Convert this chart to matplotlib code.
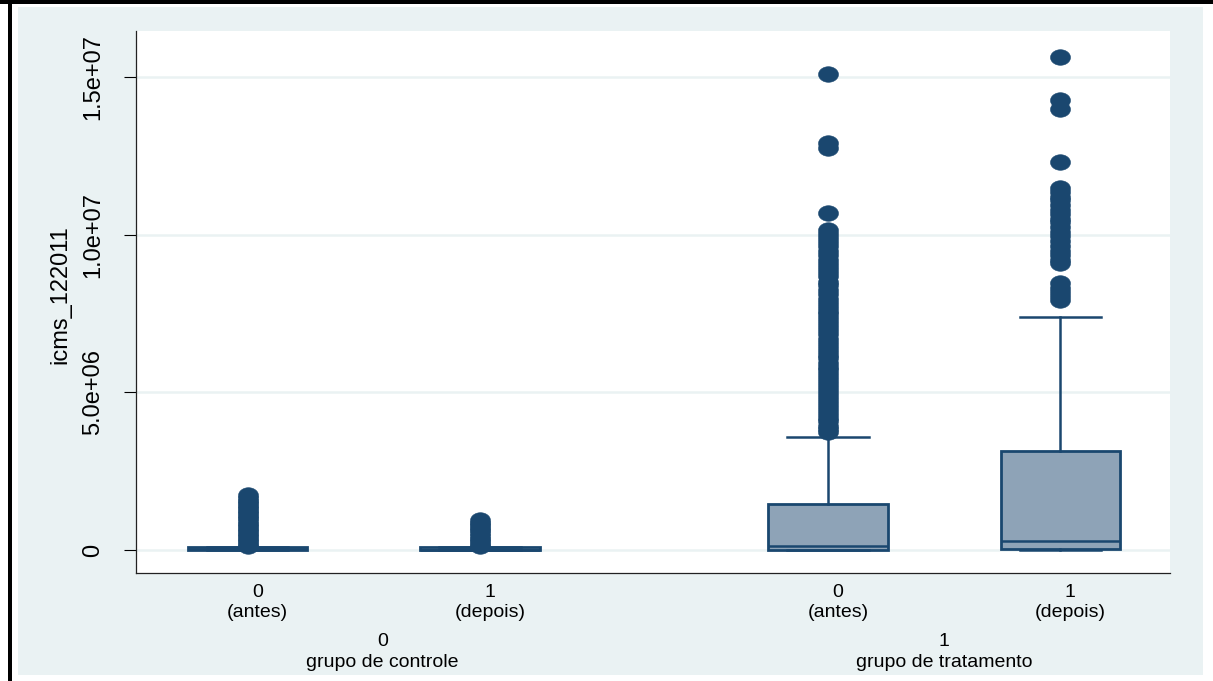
import numpy as np
import matplotlib
matplotlib.use("Agg")
import matplotlib.pyplot as plt
from matplotlib.path import Path
from matplotlib.patches import Rectangle
from matplotlib.transforms import ScaledTranslation, blended_transform_factory

plt.rcParams["font.family"] = ["Liberation Sans", "DejaVu Sans"]

# box positions and labels (grupo x periodo)
positions = [1, 2, 3.5, 4.5]
tick_labels = ["0\n(antes)", "1\n(depois)", "0\n(antes)", "1\n(depois)"]
group_labels = ["0\ngrupo de controle", "1\ngrupo de tratamento"]
group_pos = [1.58, 4.0]

# box statistics, icms_122011 in millions
q1 = [0.0, 0.0, 0.0, 0.03]
med = [0.02, 0.01, 0.14, 0.30]
q3 = [0.10, 0.10, 1.46, 3.13]
whislo = [0.0, 0.0, 0.0, 0.0]
whishi = [0.10, 0.10, 3.60, 7.38]

# outside values, in millions
out_ctrl_antes = [0.12, 0.2, 0.28, 0.36, 0.44, 0.52, 0.6, 0.68, 0.76, 0.84,
                  0.92, 1.0, 1.08, 1.16, 1.24, 1.32, 1.4, 1.48, 1.56, 1.64, 1.75]
out_ctrl_depois = [0.12, 0.2, 0.28, 0.36, 0.45, 0.53, 0.62, 0.7, 0.78, 0.86, 0.95]
out_trat_antes = [15.1, 12.9, 12.75, 10.7,
                  10.15, 10.02, 9.9, 9.78, 9.64, 9.5, 9.35, 9.2, 9.08, 8.95,
                  8.82, 8.68, 8.5, 8.4, 8.25, 8.12, 7.98, 7.85, 7.72, 7.6,
                  7.48, 7.35, 7.22, 7.1, 6.98, 6.85, 6.7, 6.58, 6.45, 6.32,
                  6.2, 6.08, 5.95, 5.82, 5.7, 5.58, 5.45, 5.32, 5.2, 5.08,
                  4.95, 4.82, 4.7, 4.58, 4.45, 4.32, 4.2, 4.08, 3.95, 3.85, 3.74]
out_trat_depois = [15.65, 14.28, 13.99, 12.32,
                   11.48, 11.35, 11.2, 11.1, 10.95, 10.8, 10.65, 10.5, 10.4,
                   10.25, 10.1, 9.95, 9.8, 9.65, 9.5, 9.35, 9.2, 9.1,
                   8.46, 8.33, 8.2, 8.05, 7.93]
outliers = [out_ctrl_antes, out_ctrl_depois, out_trat_antes, out_trat_depois]

navy = "#1A476F"
box_fill = "#8EA3B7"
bg = "#EAF2F3"

stats = []
for i in range(len(positions)):
    stats.append(dict(q1=q1[i] * 1e6, med=med[i] * 1e6, q3=q3[i] * 1e6,
                      whislo=whislo[i] * 1e6, whishi=whishi[i] * 1e6,
                      fliers=np.array(outliers[i]) * 1e6))

# slightly flattened circle for the outside values
t = np.linspace(0, 2 * np.pi, 40)
ellipse = Path(np.column_stack([np.cos(t), 0.78 * np.sin(t)]), closed=True)

W, H = 1213, 681
fig = plt.figure(figsize=(W / 100, H / 100), dpi=100, facecolor="white")

# graph region and frame
fig.patches.append(Rectangle((18 / W, 6 / H), 1185 / W, 668 / H,
                             transform=fig.transFigure, facecolor=bg,
                             edgecolor="none", zorder=-10))
fig.patches.append(Rectangle((0, 1 - 3.5 / H), 1, 3.5 / H,
                             transform=fig.transFigure, facecolor="black",
                             edgecolor="none", zorder=-5))
fig.patches.append(Rectangle((8 / W, 0), 4 / W, 1,
                             transform=fig.transFigure, facecolor="black",
                             edgecolor="none", zorder=-5))

ax = fig.add_axes([135.7 / W, 1 - 573 / H, (1170 - 135.7) / W, (573 - 31) / H])
ax.set_facecolor("white")

ax.bxp(stats, positions=positions, widths=0.514, capwidths=0.35,
       patch_artist=True, showfliers=True,
       boxprops=dict(facecolor=box_fill, edgecolor=navy, linewidth=2.0),
       medianprops=dict(color=navy, linewidth=1.8),
       whiskerprops=dict(color=navy, linewidth=1.8),
       capprops=dict(color=navy, linewidth=1.8),
       flierprops=dict(marker=ellipse, markersize=14.4, markerfacecolor=navy,
                       markeredgecolor=navy, markeredgewidth=0.4,
                       linestyle="none"))

ax.set_xlim(0.517, 4.973)
ax.set_ylim(-0.73e6, 16.47e6)

ax.set_yticks([0, 5e6, 1e7, 1.5e7])
ax.set_yticklabels(["0", "5.0e+06", "1.0e+07", "1.5e+07"],
                   rotation=90, va="center", fontsize=17)
ax.tick_params(axis="y", length=9, width=0.8, pad=14, color="black")
ax.yaxis.grid(True, color=bg, linewidth=1.8)
ax.set_axisbelow(True)

ax.set_xticks(positions)
ax.set_xticklabels(tick_labels, fontsize=14, linespacing=1.2)
ax.tick_params(axis="x", length=0, pad=8)
shift = ScaledTranslation(10 / 100, 0, fig.dpi_scale_trans)
for lab in ax.get_xticklabels():
    lab.set_transform(lab.get_transform() + shift)

ax.set_ylabel("icms_122011", fontsize=17)
ax.yaxis.set_label_coords(-0.062, 0.513)

for s in ["top", "right"]:
    ax.spines[s].set_visible(False)
for s in ["left", "bottom"]:
    ax.spines[s].set_linewidth(0.9)
    ax.spines[s].set_color("#222222")

trans = blended_transform_factory(ax.transData, ax.transAxes)
for x, lab in zip(group_pos, group_labels):
    ax.text(x, -0.11, lab, transform=trans, ha="center", va="top",
            fontsize=14, linespacing=1.3)

fig.savefig("out.png", dpi=100, facecolor="white")
